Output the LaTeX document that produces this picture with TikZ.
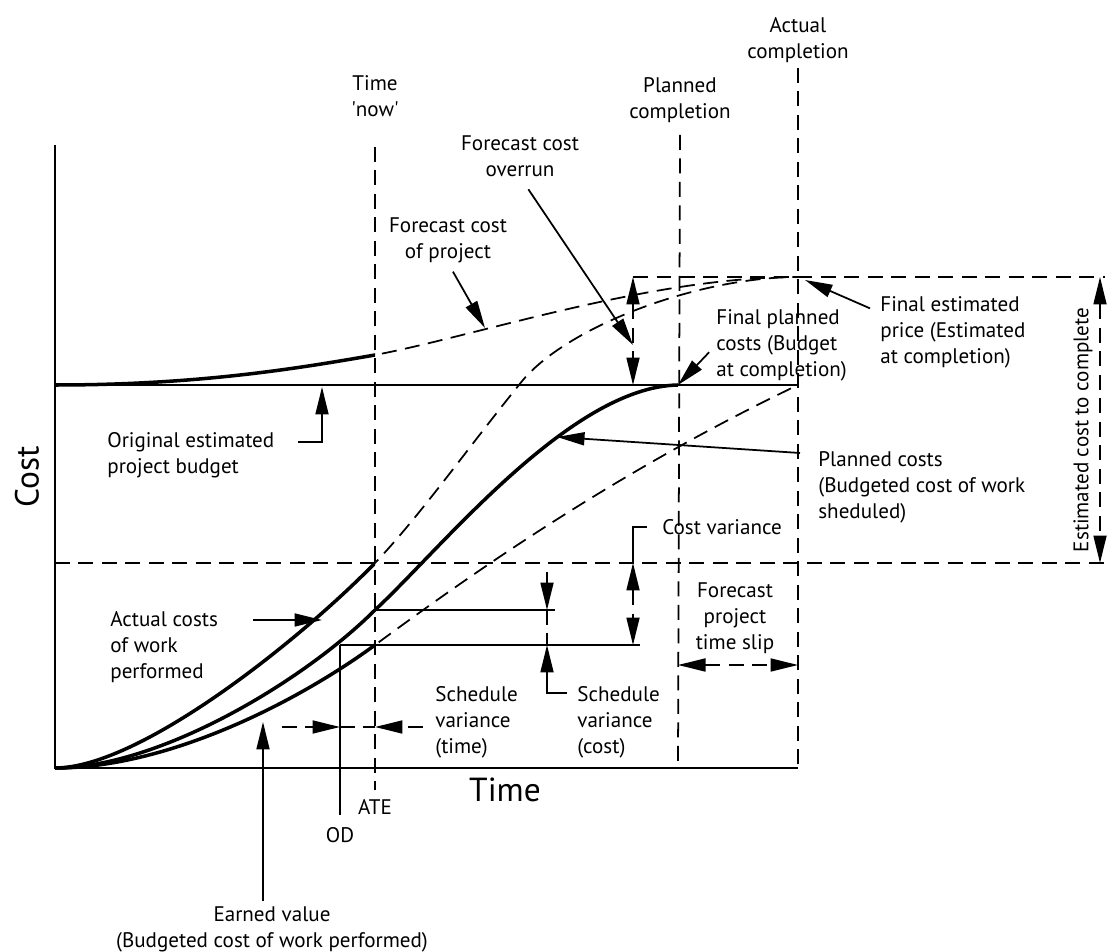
\documentclass[tikz,border=0pt]{standalone}
\usepackage{fontspec}
\setmainfont{PT Sans}
\usetikzlibrary{arrows.meta}

% curves of the chart (pixel grid, y downwards)
\newcommand{\actualpath}{(55,768) .. controls (140,768) and (300,640) .. (375,563)
    .. controls (420,516) and (470,445) .. (523,380)
    .. controls (570,325) and (700,277) .. (798,277)}
\newcommand{\plannedpath}{(55,768) .. controls (160,768) and (305,680) .. (375,610)
    .. controls (440,550) and (570,387) .. (678,385)}
\newcommand{\earnedpath}{(55,768) .. controls (170,768) and (300,700) .. (375,645)
    .. controls (450,590) and (600,480) .. (798,385)}
\newcommand{\forecastpath}{(55,385) .. controls (200,385) and (300,368) .. (375,355)
    .. controls (480,335) and (650,277) .. (798,277)}

\begin{document}
\begin{tikzpicture}[x=0.02cm, y=-0.02cm,
    >={Triangle[length=5.5mm,width=2.6mm]},
    every node/.style={font=\fontsize{12}{14.8}\selectfont, inner sep=0pt},
    lbl/.style={align=left},
    big/.style={font=\fontsize{19}{21}\selectfont},
    guide/.style={line width=1pt, dash pattern=on 3mm off 1.7mm},
    curve/.style={line width=2pt},
    fine/.style={line width=1pt}]

    \useasboundingbox (0,0) rectangle (1113,952);

    % Axes:
    \coordinate (O) at (55,768);
    \coordinate (ytop) at (55,145);
    \coordinate (xend) at (798,768);
    \draw[fine, line width=1.1pt] (ytop) -- (O) -- (xend);
    \node[big, rotate=90] (costlbl) at (27,477) {Cost};
    \node[big] (timelbl) at (505,790) {Time};

    % time markers
    \node[align=center] (now) at (375,96) {Time\\\textquotesingle now\textquotesingle};
    \node[align=center] (plannedlbl) at (680,100) {Planned\\completion};
    \node[align=center] (actuallbl) at (798,40) {Actual\\completion};
    \node (ate) at (375,807) {ATE};
    \node (od) at (340,835) {OD};
    \draw[guide] (now.south) ++(0,30) -- (375,790);
    \draw[guide] (plannedlbl.south) ++(0,12) -- (678,768);
    \draw[guide] (actuallbl.south) ++(0,5) -- (xend);

    % budget and level lines
    \draw[fine] (55,385) -- (798,385);
    \draw[guide] (55,563) -- (1105,563);
    \draw[guide] (633,277) -- (1105,277);

    % curves, solid up to 'now', dashed after
    \begin{scope}
        \clip (0,0) rectangle (375,952);
        \draw[curve] \actualpath;
        \draw[curve] \earnedpath;
        \draw[curve] \forecastpath;
    \end{scope}
    \begin{scope}
        \clip (375,0) rectangle (1113,952);
        \draw[guide] \actualpath;
        \draw[guide] \earnedpath;
        \draw[guide] \forecastpath;
    \end{scope}
    \draw[curve] \plannedpath;

    % variance lines
    \coordinate (svctop) at (547,610);
    \coordinate (svcbot) at (547,645);
    \coordinate (svcknee) at (547,693);
    \coordinate (cvtop) at (633,563);
    \coordinate (cvbot) at (633,645);
    \coordinate (odtop) at (340,645);
    \draw[fine] (375,610) -- (555,610);
    \draw[fine] (odtop) -- (640,645);
    \draw[fine, shorten >=2.5mm] (odtop) -- (od.north);

    % labels
    \node[align=center] (overrunlbl) at (520,156) {Forecast cost\\overrun};
    \node[align=center] (fcplbl) at (448,240) {Forecast cost\\of project};
    \node[lbl, anchor=west] (bac) at (716,345) {Final planned\\costs (Budget\\at completion)};
    \node[lbl, anchor=west] (eac) at (880,332) {Final estimated\\price (Estimated\\at completion)};
    \node[lbl, anchor=west] (pv) at (818,487) {Planned costs\\(Budgeted cost of work\\sheduled)};
    \node[lbl, anchor=west] (cv) at (662,527) {Cost variance};
    \node[lbl, anchor=west] (svc) at (577,722) {Schedule\\variance\\(cost)};
    \node[lbl, anchor=west] (svt) at (435,722) {Schedule\\variance\\(time)};
    \node[align=center] (slip) at (735,618) {Forecast\\project\\time slip};
    \node[rotate=90] (etc) at (1083,430) {Estimated cost to complete};
    \node[lbl, anchor=west] (obudget) at (107,455) {Original estimated\\project budget};
    \node[lbl, anchor=west] (ac) at (110,647) {Actual costs\\of work\\performed};
    \node[align=center] (ev) at (272,929) {Earned value\\(Budgeted cost of work performed)};

    % leaders
    \coordinate (fcptip) at (485,328);
    \coordinate (overtip) at (633,345);
    \coordinate (bactip) at (678,385);
    \coordinate (eactip) at (805,280);
    \coordinate (pvtip) at (557,437);
    \coordinate (pvfoot) at (800,453);
    \coordinate (obfoot) at (298,442);
    \coordinate (obknee) at (322,442);
    \coordinate (obtip) at (322,387);
    \coordinate (acfoot) at (253,620);
    \coordinate (actip) at (322,620);
    \coordinate (evtip) at (263,722);
    \draw[fine, ->, shorten <=2mm] (fcplbl.south) -- (fcptip);
    \draw[fine, ->, shorten <=3mm] (overrunlbl.south) -- (overtip);
    \draw[fine, ->, shorten <=2mm] (bac.west) -- (bactip);
    \draw[fine, ->] ([xshift=-2mm, yshift=-2.5mm]eac.north west) -- (eactip);
    \draw[fine, ->] (pvfoot) -- (pvtip);
    \draw[fine, ->] (obfoot) -- (obknee) -- (obtip);
    \draw[fine, ->] (acfoot) -- (actip);
    \draw[fine, ->, shorten <=1mm] (ev.north -| evtip) -- (evtip);

    % dimension arrows
    \draw[guide, <->] (633,277) -- (cvbot |- 0,385);
    \draw[guide, <->] (1100,277) -- (1100,563);
    \draw[guide, <->] (678,665) -- (798,665);
    \draw[guide, <->] (cvtop) -- (cvbot);
    \draw[fine] ([xshift=-3mm]cv.west) -| (cvtop);
    \draw[fine, ->] (svctop) ++(0,-38) -- (svctop);
    \draw[guide] (svctop) -- (svcbot);
    \draw[fine, ->, shorten <=2mm] (svcknee -| svc.west) -- (svcknee) -- (svcbot);
    \draw[guide, ->] (282,727) -- (odtop |- 0,727);
    \draw[guide] (340,727) -- (375,727);
    \draw[guide, ->] (423,727) -- (375,727);
\end{tikzpicture}
\end{document}
